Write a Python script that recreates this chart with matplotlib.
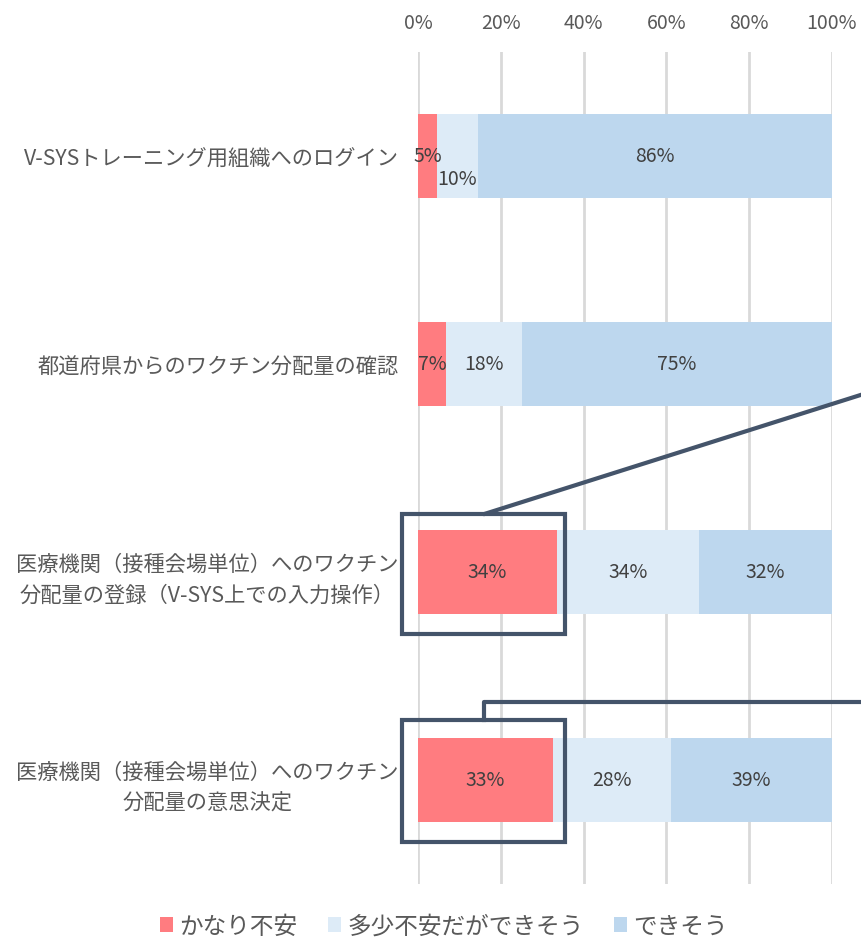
import numpy as np
import matplotlib.pyplot as plt
from matplotlib.patches import Rectangle, Patch

plt.rcParams['font.family'] = ['Noto Sans CJK JP', 'DejaVu Sans']

categories = [
    'V-SYSトレーニング用組織へのログイン',
    '都道府県からのワクチン分配量の確認',
    '医療機関（接種会場単位）へのワクチン\n分配量の登録（V-SYS上での入力操作）',
    '医療機関（接種会場単位）へのワクチン\n分配量の意思決定',
]
series_names = ['かなり不安', '多少不安だができそう', 'できそう']
very_anxious = [4.6, 6.8, 33.6, 32.6]
somewhat = [9.8, 18.4, 34.2, 28.4]
can_do = [85.6, 74.8, 32.2, 39.0]
xticks = [0, 20, 40, 60, 80, 100]

colors = ['#FF7C80', '#DDEBF7', '#BDD7EE']
box_color = '#44546A'

fig = plt.figure(figsize=(8.62, 9.45), dpi=100)
ax = fig.add_axes([418 / 862, 1 - 885 / 945, 414 / 862, 832 / 945])

y = np.arange(len(categories))
left = np.zeros(len(categories))
for vals, col in zip([very_anxious, somewhat, can_do], colors):
    ax.barh(y, vals, left=left, height=0.4, color=col, zorder=2)
    for i, v in enumerate(vals):
        cx = left[i] + v / 2
        cy = y[i]
        # small segment in first row: label nudged down like the original
        if i == 0 and col == colors[1]:
            cy += 0.11
        ax.text(cx, cy, f'{v:.0f}%', ha='center', va='center',
                fontsize=14, color='#404040', zorder=3)
    left += np.array(vals)

ax.set_xlim(0, 100)
ax.set_ylim(3.5, -0.5)
ax.set_xticks(xticks)
ax.set_xticklabels([f'{t}%' for t in xticks])
ax.xaxis.tick_top()
ax.tick_params(axis='x', length=0, pad=14, labelsize=14, labelcolor='#595959')
ax.set_yticks(y)
ax.set_yticklabels(categories, multialignment='center', linespacing=1.55)
ax.tick_params(axis='y', length=0, labelsize=15.3, labelcolor='#595959', pad=14)
ax.grid(axis='x', color='#D9D9D9', linewidth=2, zorder=0)
for s in ax.spines.values():
    s.set_visible(False)

# highlight boxes
ax.add_patch(Rectangle((-3.9, 2 - 0.28), 39.4, 0.58, fill=False,
                       edgecolor=box_color, linewidth=3, clip_on=False, zorder=4))
ax.add_patch(Rectangle((-3.9, 3 - 0.29), 39.4, 0.59, fill=False,
                       edgecolor=box_color, linewidth=3, clip_on=False, zorder=4))
ax.plot([16.2, 111.5], [2 - 0.28, 1.12], color=box_color, linewidth=3,
        clip_on=False, zorder=4)
ax.plot([15.9, 15.9, 111.5], [3 - 0.29, 2.623, 2.623], color=box_color,
        linewidth=3, clip_on=False, zorder=4)

handles = [Patch(facecolor=c, edgecolor='none') for c in colors]
fig.legend(handles, series_names, loc='lower center', bbox_to_anchor=(0.515, -0.016),
           ncol=3, frameon=False, fontsize=17, handlelength=0.55, handleheight=0.55,
           handletextpad=0.25, columnspacing=1.3, labelcolor='#595959')

fig.savefig('out.png', dpi=100)
